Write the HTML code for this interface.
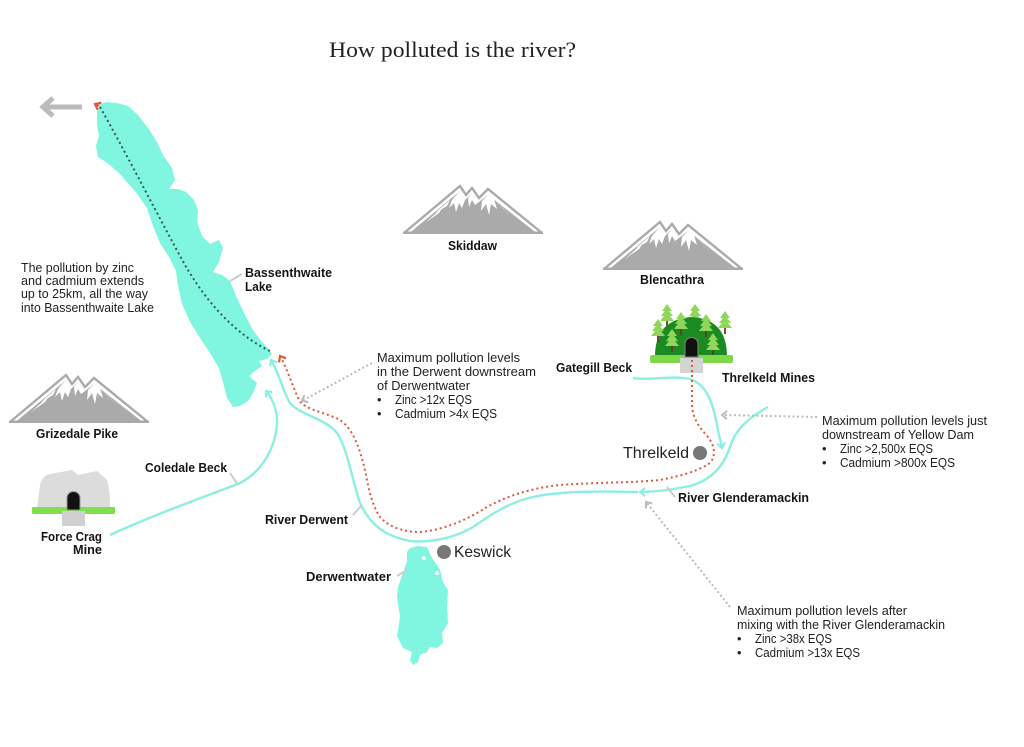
<!DOCTYPE html>
<html><head><meta charset="utf-8"><style>
html,body{margin:0;padding:0;background:#fff;}
svg{display:block;}
.b{font-family:"Liberation Sans",Arial,sans-serif;font-weight:bold;font-size:12.5px;fill:#151515;}
.r{font-family:"Liberation Sans",Arial,sans-serif;font-size:12.8px;fill:#222;}
.c{font-family:"Liberation Sans",Arial,sans-serif;font-size:16px;fill:#222;}
</style></head><body>
<svg width="1024" height="747" viewBox="0 0 1024 747" xmlns="http://www.w3.org/2000/svg">
<defs>
<marker id="mc" markerUnits="userSpaceOnUse" markerWidth="12" markerHeight="12" refX="6" refY="5" orient="auto">
<path d="M1,1 L6,5 L1,9" fill="none" stroke="#8cefe0" stroke-width="2.2"/></marker>
<marker id="mr" markerUnits="userSpaceOnUse" markerWidth="12" markerHeight="12" refX="6" refY="5" orient="auto">
<path d="M1,1 L6,5 L1,9" fill="none" stroke="#e0583a" stroke-width="2.2"/></marker>
<marker id="mg" markerUnits="userSpaceOnUse" markerWidth="12" markerHeight="12" refX="6" refY="5" orient="auto">
<path d="M1,1 L6,5 L1,9" fill="none" stroke="#bbb" stroke-width="2"/></marker>
<g id="mtn">
<path d="M1,48 L57,1 L63,10 L69,3 L76,13 L85,4 L139,48" fill="none" stroke="#aaa" stroke-width="2.4"/>
<path d="M7,47.5 L56,7 L62,15 L69,8 L76,17 L85,10 L133,47.5 Z" fill="#aaa"/>
<path d="M56,7 L49,15 L46,23 L51,18 L53,27 L56,18 L59,23 L62,15 Z" fill="#fff"/>
<path d="M47,15 L32,28 L44,21 Z" fill="#fff"/>
<path d="M69,8 L65,13 L66,22 L69,15 L72,20 L76,17 Z" fill="#fff"/>
<path d="M85,10 L79,16 L78,26 L83,19 L86,30 L88,19 L94,24 L91,14 Z" fill="#fff"/>
<path d="M95,18 L111,35 L100,23 Z" fill="#fff"/>
<path d="M40,22 L22,38 L36,28 Z" fill="#fff"/>
<rect x="0" y="46.5" width="140" height="2.5" fill="#aaa"/>
</g>
<g id="tree">
<line x1="0" y1="8" x2="0" y2="23" stroke="#6b3a1e" stroke-width="1.8"/>
<path d="M0,0 L5,7 L-5,7 Z M0,4 L6,12 L-6,12 Z M0,8 L7,17 L-7,17 Z" fill="#8fd65a"/>
</g>
</defs>

<!-- Title -->
<text x="329" y="57" font-family="'Liberation Serif',serif" font-size="22" fill="#222" textLength="247" lengthAdjust="spacingAndGlyphs">How polluted is the river?</text>

<!-- Mountains -->
<use href="#mtn" x="403" y="185"/>
<use href="#mtn" x="603" y="221"/>
<use href="#mtn" x="9" y="374"/>
<text class="b" x="448" y="250" textLength="49" lengthAdjust="spacingAndGlyphs">Skiddaw</text>
<text class="b" x="640" y="284" textLength="64" lengthAdjust="spacingAndGlyphs">Blencathra</text>
<text class="b" x="36" y="438" textLength="82" lengthAdjust="spacingAndGlyphs">Grizedale Pike</text>

<!-- Bassenthwaite Lake -->
<path d="M97,112 L100,104 L107,102 L117,103 L128,106 L138,115 L148,128 L157,142 L163,155 L172,168 L175,180 L169,189 L178,189 L186,192 L194,200 L198,210 L197,222 L202,236 L210,244 L219,240 L223,248 L219,262 L213,272 L222,275 L230,281 L236,296 L244,313 L253,330 L262,342 L268,348 L272,354 L267,359 L259,361 L262,366 L255,371 L249,376 L257,383 L253,393 L248,401 L240,406 L233,407 L227,398 L223,382 L219,368 L210,353 L200,338 L190,322 L182,304 L178,286 L176,271 L169,257 L160,243 L153,226 L147,208 L135,191 L119,173 L106,162 L98,157 L96,146 L99,136 L97,124 Z" fill="#80f5e0"/>
<!-- Derwentwater -->
<path d="M407,552 L410,548 L418,546 L427,547 L431,556 L440,570 L443,582 L448,590 L447,607 L448,623 L442,633 L443,643 L437,648 L430,647 L427,652 L420,655 L418,662 L413,665 L410,660 L412,652 L403,648 L397,636 L400,617 L397,597 L398,587 L403,573 L407,561 Z" fill="#80f5e0"/>
<circle cx="424" cy="558" r="2" fill="#fff"/>
<circle cx="437" cy="573" r="2" fill="#fff"/>

<!-- Rivers (cyan) -->
<path d="M638,492 C600,491 560,491 533,497 C510,502 490,515 473,527 C455,538 430,543 410,541 C385,536 370,525 360,503 C352,480 348,450 337,433 C325,418 300,415 290,403 C283,392 280,375 271,360" fill="none" stroke="#8cefe0" stroke-width="2.4" marker-end="url(#mc)"/>
<path d="M768,407 C748,418 735,430 730,447 C724,465 712,480 690,486 C670,490 655,492 640,492" fill="none" stroke="#8cefe0" stroke-width="2.4" marker-end="url(#mc)"/>
<path d="M633,378 C650,381 670,375 690,379 C708,385 713,405 717,425 C719,437 721,442 722,448" fill="none" stroke="#8cefe0" stroke-width="2.4" marker-end="url(#mc)"/>
<path d="M110,535 C160,512 210,495 240,483 C265,470 275,445 277,425 C278,410 272,398 266,391" fill="none" stroke="#8cefe0" stroke-width="2.4" marker-end="url(#mc)"/>

<!-- Pollution dotted lines -->
<path d="M100,107 C130,160 160,220 185,265 C205,300 235,335 272,352" fill="none" stroke="#2f5e4a" stroke-width="2" stroke-dasharray="2 3"/>
<path d="M99,106 L95,104" fill="none" stroke="#e0583a" stroke-width="2" marker-end="url(#mr)"/>
<path d="M692,360 L692,405 C693,420 700,428 708,437 C716,447 716,460 707,465 C695,472 680,476 660,480 C630,483 600,482 560,485 C530,488 505,497 487,507 C470,518 445,530 420,532 C400,532 387,525 380,517 C372,505 369,490 367,480 C362,455 355,430 340,420 C325,412 305,410 299,400 C292,385 287,368 280,356" fill="none" stroke="#e0583a" stroke-width="2" stroke-dasharray="2 3" marker-end="url(#mr)"/>

<!-- Big gray arrow -->
<line x1="82" y1="107" x2="44" y2="107" stroke="#bbb" stroke-width="5"/>
<path d="M53,98 L43,107 L53,116" fill="none" stroke="#bbb" stroke-width="5"/>

<!-- Annotation gray dotted -->
<path d="M372,363 L302,401" fill="none" stroke="#bbb" stroke-width="2" stroke-dasharray="2 2.5" marker-end="url(#mg)"/>
<path d="M817,417 L722,415" fill="none" stroke="#bbb" stroke-width="2" stroke-dasharray="2 2.5" marker-end="url(#mg)"/>
<path d="M730,607 L646,502" fill="none" stroke="#bbb" stroke-width="2" stroke-dasharray="2 2.5" marker-end="url(#mg)"/>

<!-- Leader lines -->
<g stroke="#ccc" stroke-width="2">
<line x1="230" y1="281" x2="242" y2="274"/>
<line x1="230" y1="473" x2="238" y2="485"/>
<line x1="353" y1="515" x2="362" y2="505"/>
<line x1="397" y1="576" x2="407" y2="570"/>
<line x1="667" y1="487" x2="675" y2="497"/>
</g>

<!-- Force Crag Mine -->
<path d="M37,510 L40,485 C42,478 45,475 50,474 L72,470 L78,475 L97,471 L107,480 C110,490 110,500 110,510 Z" fill="#dcdcdc"/>
<rect x="32" y="507" width="83" height="7" rx="1.5" fill="#7ee04a"/>
<path d="M67,510 L67,498 A6.5,6.5 0 0 1 80,498 L80,510 Z" fill="#111" stroke="#999" stroke-width="1"/>
<rect x="62" y="511" width="23" height="15" fill="#d0d0d0"/>

<!-- Threlkeld Mines -->
<use href="#tree" x="667" y="304"/>
<use href="#tree" x="695" y="304"/>
<use href="#tree" x="725" y="311"/>
<path d="M655,357 C655,334 664,320 690,317 C716,318 727,332 727,357 Z" fill="#1c8a22"/>
<use href="#tree" x="658" y="319"/>
<use href="#tree" x="681" y="312"/>
<use href="#tree" x="706" y="314"/>
<use href="#tree" x="672" y="329"/>
<use href="#tree" x="713" y="333"/>
<rect x="650" y="355" width="83" height="8" rx="2" fill="#7dd84a"/>
<path d="M685,357 L685,344 A6.5,6.5 0 0 1 698,344 L698,357 Z" fill="#111" stroke="#888" stroke-width="1"/>
<rect x="680" y="358" width="23" height="15" fill="#d4d4d4"/>
<path d="M692,360 L692,373" stroke="#e0583a" stroke-width="2" stroke-dasharray="2 3"/>

<!-- Towns -->
<circle cx="700" cy="453" r="7" fill="#777"/>
<text class="c" x="623" y="458" textLength="66" lengthAdjust="spacingAndGlyphs">Threlkeld</text>
<circle cx="444" cy="552" r="7" fill="#777"/>
<text class="c" x="454" y="557" textLength="57" lengthAdjust="spacingAndGlyphs">Keswick</text>

<!-- Bold labels -->
<text class="b" x="245" y="277" textLength="87" lengthAdjust="spacingAndGlyphs">Bassenthwaite</text>
<text class="b" x="245" y="291" textLength="27" lengthAdjust="spacingAndGlyphs">Lake</text>
<text class="b" x="145" y="472" textLength="82" lengthAdjust="spacingAndGlyphs">Coledale Beck</text>
<text class="b" x="265" y="524" textLength="83" lengthAdjust="spacingAndGlyphs">River Derwent</text>
<text class="b" x="306" y="581" textLength="85" lengthAdjust="spacingAndGlyphs">Derwentwater</text>
<text class="b" x="41" y="541" textLength="61" lengthAdjust="spacingAndGlyphs">Force Crag</text>
<text class="b" x="73" y="554" textLength="29" lengthAdjust="spacingAndGlyphs">Mine</text>
<text class="b" x="556" y="372" textLength="76" lengthAdjust="spacingAndGlyphs">Gategill Beck</text>
<text class="b" x="722" y="382" textLength="93" lengthAdjust="spacingAndGlyphs">Threlkeld Mines</text>
<text class="b" x="678" y="502" textLength="131" lengthAdjust="spacingAndGlyphs">River Glenderamackin</text>

<!-- Left paragraph -->
<text class="r" x="21" y="272" textLength="113" lengthAdjust="spacingAndGlyphs">The pollution by zinc</text>
<text class="r" x="21" y="285" textLength="123" lengthAdjust="spacingAndGlyphs">and cadmium extends</text>
<text class="r" x="21" y="298" textLength="127" lengthAdjust="spacingAndGlyphs">up to 25km, all the way</text>
<text class="r" x="21" y="312" textLength="133" lengthAdjust="spacingAndGlyphs">into Bassenthwaite Lake</text>

<!-- Annotation 1 -->
<text class="r" x="377" y="362" textLength="143" lengthAdjust="spacingAndGlyphs">Maximum pollution levels</text>
<text class="r" x="377" y="376" textLength="159" lengthAdjust="spacingAndGlyphs">in the Derwent downstream</text>
<text class="r" x="377" y="390" textLength="93" lengthAdjust="spacingAndGlyphs">of Derwentwater</text>
<text class="r" x="377" y="404">•</text>
<text class="r" x="395" y="404" textLength="77" lengthAdjust="spacingAndGlyphs">Zinc &gt;12x EQS</text>
<text class="r" x="377" y="418">•</text>
<text class="r" x="395" y="418" textLength="102" lengthAdjust="spacingAndGlyphs">Cadmium &gt;4x EQS</text>

<!-- Annotation 2 -->
<text class="r" x="822" y="425" textLength="165" lengthAdjust="spacingAndGlyphs">Maximum pollution levels just</text>
<text class="r" x="822" y="439" textLength="152" lengthAdjust="spacingAndGlyphs">downstream of Yellow Dam</text>
<text class="r" x="822" y="453">•</text>
<text class="r" x="840" y="453" textLength="93" lengthAdjust="spacingAndGlyphs">Zinc &gt;2,500x EQS</text>
<text class="r" x="822" y="467">•</text>
<text class="r" x="840" y="467" textLength="115" lengthAdjust="spacingAndGlyphs">Cadmium &gt;800x EQS</text>

<!-- Annotation 3 -->
<text class="r" x="737" y="615" textLength="170" lengthAdjust="spacingAndGlyphs">Maximum pollution levels after</text>
<text class="r" x="737" y="629" textLength="208" lengthAdjust="spacingAndGlyphs">mixing with the River Glenderamackin</text>
<text class="r" x="737" y="643">•</text>
<text class="r" x="755" y="643" textLength="77" lengthAdjust="spacingAndGlyphs">Zinc &gt;38x EQS</text>
<text class="r" x="737" y="657">•</text>
<text class="r" x="755" y="657" textLength="105" lengthAdjust="spacingAndGlyphs">Cadmium &gt;13x EQS</text>
</svg>
</body></html>
